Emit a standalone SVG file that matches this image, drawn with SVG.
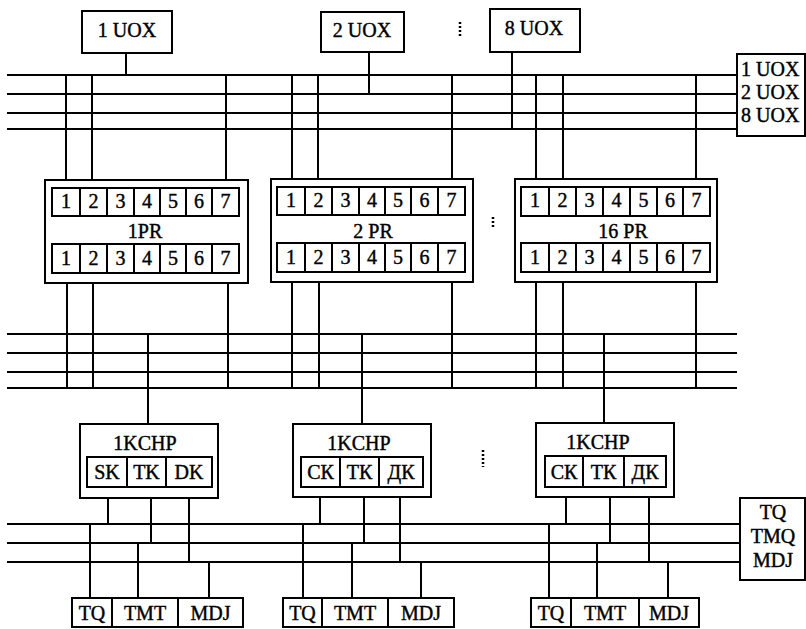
<svg xmlns="http://www.w3.org/2000/svg" width="806" height="629" viewBox="0 0 806 629">
<style>
.b{fill:#fff;stroke:#000;stroke-width:2}
.c{fill:none;stroke:#000;stroke-width:2}
.d{fill:none;stroke:#000;stroke-width:2.5;stroke-dasharray:2 2}
text{font-family:"Liberation Serif","Times New Roman",serif;font-size:20px;fill:#000;stroke:#000;stroke-width:0.4}
.m{text-anchor:middle}
</style>
<rect width="806" height="629" fill="#fff"/>
<g id="connectors" class="c">
<path d="M7 75H737M7 94H737M7 113H737M7 129H737"/>
<path d="M126 53V75M369 52V94M512 52V129"/>
<path d="M66 75V180M92 75V180M226 75V180M292 75V179M318 75V179M452 75V179M536 75V179M563 75V179M696 75V179"/>
<path d="M7 334H737M7 353H737M7 372H737M7 388H737"/>
<path d="M67 283V388M93 283V388M228 283V388M292 282V388M319 282V388M452 282V388M536 282V388M563 282V388M696 282V388"/>
<path d="M148 334V424M362 334V424M604 334V423"/>
<path d="M7 524H740M7 543H740M7 562H740"/>
<path d="M108 498V524M151 498V543M189 498V562M90 524V598M138 543V598M209 562V598"/>
<path d="M320 497V524M364 497V543M400 497V562M303 524V598M352 543V598M421 562V598"/>
<path d="M566 497V524M610 497V543M649 497V562M549 524V598M597 543V598M668 562V598"/>
</g>
<g id="dots" class="d">
<path d="M460 22V38M493 217V228M483 450V467"/>
</g>
<g id="uox1"><rect class="b" x="82" y="11" width="90" height="42"/><text class="m" x="127" y="37">1 UOX</text></g>
<g id="uox2"><rect class="b" x="321" y="12" width="83" height="40"/><text class="m" x="362" y="37">2 UOX</text></g>
<g id="uox8"><rect class="b" x="490" y="9" width="90" height="43"/><text class="m" x="534" y="35">8 UOX</text></g>
<g id="uoxbus"><rect class="b" x="737" y="54" width="68" height="82"/><text x="741" y="76">1 UOX</text><text x="741" y="99">2 UOX</text><text x="741" y="122">8 UOX</text></g>
<g id="pr1">
<rect class="b" x="45" y="180" width="203" height="103"/>
<rect class="b" x="52" y="188" width="187" height="28"/>
<rect class="b" x="52" y="244" width="187" height="29"/>
<path class="c" d="M80 188V216M107 188V216M134 188V216M160 188V216M186 188V216M212 188V216M80 244V273M107 244V273M134 244V273M160 244V273M186 244V273M212 244V273"/>
<g class="m"><text x="66" y="208">1</text><text x="93.5" y="208">2</text><text x="120.5" y="208">3</text><text x="147" y="208">4</text><text x="173" y="208">5</text><text x="199" y="208">6</text><text x="225.5" y="208">7</text>
<text x="66" y="265">1</text><text x="93.5" y="265">2</text><text x="120.5" y="265">3</text><text x="147" y="265">4</text><text x="173" y="265">5</text><text x="199" y="265">6</text><text x="225.5" y="265">7</text>
<text x="145" y="238">1PR</text></g>
</g>
<g id="pr2">
<rect class="b" x="271" y="179" width="202" height="103"/>
<rect class="b" x="277" y="187" width="188" height="28"/>
<rect class="b" x="277" y="243" width="188" height="29"/>
<path class="c" d="M305 187V215M332 187V215M359 187V215M385 187V215M411 187V215M438 187V215M305 243V272M332 243V272M359 243V272M385 243V272M411 243V272M438 243V272"/>
<g class="m"><text x="291" y="207">1</text><text x="318.5" y="207">2</text><text x="345.5" y="207">3</text><text x="372" y="207">4</text><text x="398" y="207">5</text><text x="424.5" y="207">6</text><text x="451.5" y="207">7</text>
<text x="291" y="264">1</text><text x="318.5" y="264">2</text><text x="345.5" y="264">3</text><text x="372" y="264">4</text><text x="398" y="264">5</text><text x="424.5" y="264">6</text><text x="451.5" y="264">7</text>
<text x="373" y="238">2 PR</text></g>
</g>
<g id="pr16">
<rect class="b" x="515" y="179" width="202" height="103"/>
<rect class="b" x="521" y="187" width="189" height="29"/>
<rect class="b" x="521" y="243" width="189" height="29"/>
<path class="c" d="M549 187V216M576 187V216M603 187V216M630 187V216M657 187V216M683 187V216M549 243V272M576 243V272M603 243V272M630 243V272M657 243V272M683 243V272"/>
<g class="m"><text x="535" y="207">1</text><text x="562.5" y="207">2</text><text x="589.5" y="207">3</text><text x="616.5" y="207">4</text><text x="643.5" y="207">5</text><text x="670" y="207">6</text><text x="696.5" y="207">7</text>
<text x="535" y="264">1</text><text x="562.5" y="264">2</text><text x="589.5" y="264">3</text><text x="616.5" y="264">4</text><text x="643.5" y="264">5</text><text x="670" y="264">6</text><text x="696.5" y="264">7</text>
<text x="623" y="238">16 PR</text></g>
</g>
<g id="kchp1">
<rect class="b" x="80" y="424" width="138" height="74"/>
<rect class="b" x="87" y="457" width="125" height="30"/>
<path class="c" d="M127 457V487M166 457V487"/>
<g class="m"><text x="145" y="450">1KCHP</text><text x="107" y="479">SK</text><text x="146.5" y="479">TK</text><text x="189" y="479">DK</text></g>
</g>
<g id="kchp2">
<rect class="b" x="293" y="424" width="138" height="73"/>
<rect class="b" x="301" y="457" width="122" height="30"/>
<path class="c" d="M340 457V487M379 457V487"/>
<g class="m"><text x="359" y="450">1KCHP</text><text x="320.5" y="479">СК</text><text x="359.5" y="479">ТК</text><text x="401" y="479">ДК</text></g>
</g>
<g id="kchp3">
<rect class="b" x="536" y="423" width="138" height="74"/>
<rect class="b" x="545" y="456" width="121" height="31"/>
<path class="c" d="M583 456V487M624 456V487"/>
<g class="m"><text x="598" y="449">1KCHP</text><text x="564" y="479">СК</text><text x="603.5" y="479">ТК</text><text x="645" y="479">ДК</text></g>
</g>
<g id="tqbus"><rect class="b" x="740" y="498" width="65" height="82"/><g class="m"><text x="773" y="519">TQ</text><text x="773" y="543">TMQ</text><text x="773" y="567">MDJ</text></g></g>
<g id="out1">
<rect class="b" x="72" y="598" width="171" height="29"/>
<path class="c" d="M112 598V627M178 598V627"/>
<g class="m"><text x="92" y="620">TQ</text><text x="145" y="620">TMT</text><text x="210.5" y="620">MDJ</text></g>
</g>
<g id="out2">
<rect class="b" x="283" y="598" width="171" height="29"/>
<path class="c" d="M322 598V627M388 598V627"/>
<g class="m"><text x="302.5" y="620">TQ</text><text x="355" y="620">TMT</text><text x="421" y="620">MDJ</text></g>
</g>
<g id="out3">
<rect class="b" x="531" y="598" width="168" height="29"/>
<path class="c" d="M571 598V627M639 598V627"/>
<g class="m"><text x="551" y="620">TQ</text><text x="605" y="620">TMT</text><text x="669" y="620">MDJ</text></g>
</g>
</svg>
